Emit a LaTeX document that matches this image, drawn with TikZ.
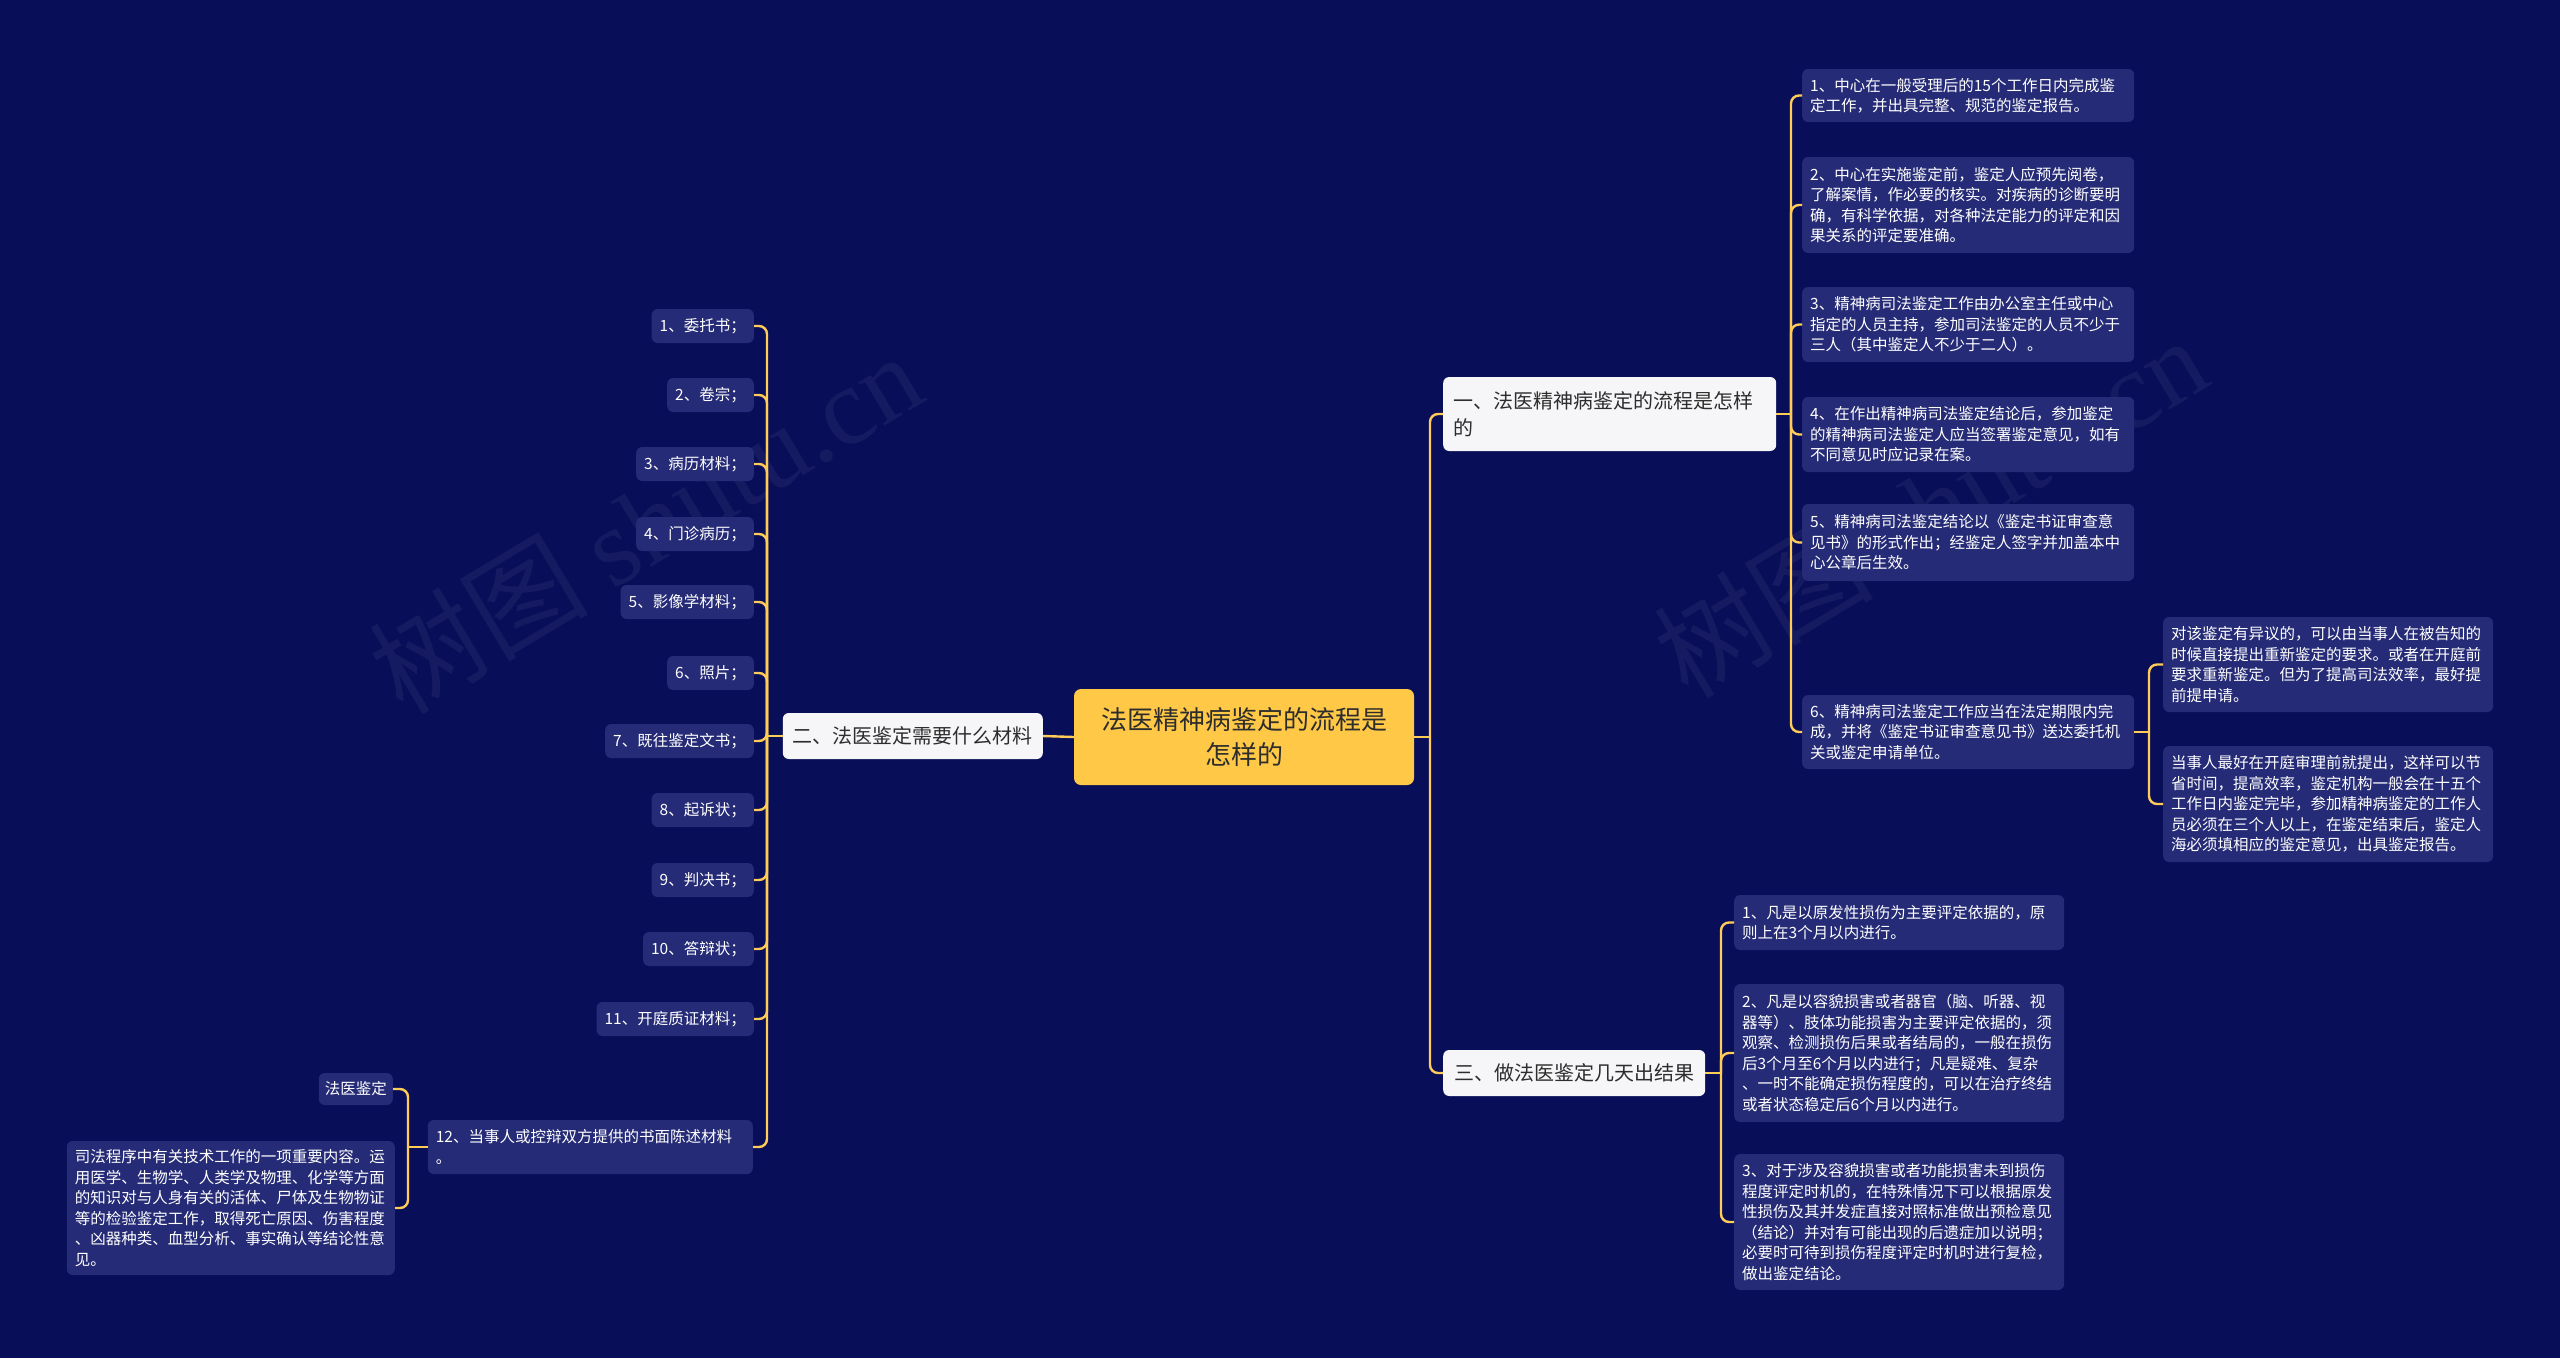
\documentclass[tikz,border=0pt]{standalone}
\usepackage{fontspec}
\newfontfamily\cjk{Noto Sans CJK SC}
\newfontfamily\wmserif{Liberation Serif}
\definecolor{bgcol}{RGB}{9,14,89}
\definecolor{leaffill}{RGB}{37,43,118}
\definecolor{linecol}{RGB}{255,204,88}
\definecolor{centerfill}{RGB}{255,200,70}
\definecolor{branchfill}{RGB}{246,246,248}
\definecolor{darktext}{RGB}{45,45,45}
\begin{document}
\begin{tikzpicture}[x=1pt,y=-1pt,
  conn/.style={draw=linecol, line width=2.4pt, rounded corners=8pt},
  leaf/.style={fill=leaffill, text=white, rounded corners=6pt,
    font=\cjk\fontsize{15.5pt}{20.5pt}\selectfont, align=left,
    inner xsep=8pt, inner ysep=0pt, minimum height=34pt},
  leafbox/.style 2 args={leaf, text width=#1, minimum height=#2},
  branch/.style={fill=branchfill, text=darktext, rounded corners=6pt,
    font=\cjk\fontsize{20pt}{27pt}\selectfont, align=left,
    inner xsep=10pt, inner ysep=0pt},
  centerbox/.style={fill=centerfill, text=darktext, rounded corners=7pt,
    font=\cjk\fontsize{26pt}{35pt}\selectfont, align=center,
    minimum width=340pt, minimum height=96pt},
  wm/.style={text=white, opacity=0.05, rotate=31,
    font=\fontsize{110pt}{120pt}\selectfont}
]
\fill[bgcol] (0,0) rectangle (2560,1358);
\useasboundingbox (0,0) rectangle (2560,1358);

% watermarks
\node[wm] (wm1) at (645,522) {\cjk 树图 \wmserif shutu.cn};
\node[wm] (wm2) at (1930,506) {\cjk 树图 \wmserif shutu.cn};

% center
\node[centerbox] (c) at (1244,737) {法医精神病鉴定的流程是\\怎样的};

% main branches
\node[branch, anchor=west, text width=313pt, minimum height=74pt] (b1) at (1443,414)
  {一、法医精神病鉴定的流程是怎样\\的};
\node[branch, anchor=west, minimum width=262pt, minimum height=46pt] (b3) at (1443,1073)
  {三、做法医鉴定几天出结果};
\node[branch, anchor=east, minimum width=259pt, minimum height=46pt] (b2) at (1043,736)
  {二、法医鉴定需要什么材料};

% branch 1 leaves
\node[leafbox={316pt}{53pt}, anchor=west] (l1) at (1802,95.5)
  {1、中心在一般受理后的15个工作日内完成鉴\\定工作，并出具完整、规范的鉴定报告。};
\node[leafbox={316pt}{96pt}, anchor=west] (l2) at (1802,205)
  {2、中心在实施鉴定前，鉴定人应预先阅卷，\\了解案情，作必要的核实。对疾病的诊断要明\\确，有科学依据，对各种法定能力的评定和因\\果关系的评定要准确。};
\node[leafbox={316pt}{75pt}, anchor=west] (l3) at (1802,324.5)
  {3、精神病司法鉴定工作由办公室主任或中心\\指定的人员主持，参加司法鉴定的人员不少于\\三人（其中鉴定人不少于二人）。};
\node[leafbox={316pt}{75pt}, anchor=west] (l4) at (1802,434.5)
  {4、在作出精神病司法鉴定结论后，参加鉴定\\的精神病司法鉴定人应当签署鉴定意见，如有\\不同意见时应记录在案。};
\node[leafbox={316pt}{77pt}, anchor=west] (l5) at (1802,542.5)
  {5、精神病司法鉴定结论以《鉴定书证审查意\\见书》的形式作出；经鉴定人签字并加盖本中\\心公章后生效。};
\node[leafbox={316pt}{74pt}, anchor=west] (l6) at (1802,732)
  {6、精神病司法鉴定工作应当在法定期限内完\\成，并将《鉴定书证审查意见书》送达委托机\\关或鉴定申请单位。};

% leaf 6 children
\node[leafbox={314pt}{95pt}, anchor=west] (l6a) at (2163,664.5)
  {对该鉴定有异议的，可以由当事人在被告知的\\时候直接提出重新鉴定的要求。或者在开庭前\\要求重新鉴定。但为了提高司法效率，最好提\\前提申请。};
\node[leafbox={314pt}{116pt}, anchor=west] (l6b) at (2163,804)
  {当事人最好在开庭审理前就提出，这样可以节\\省时间，提高效率，鉴定机构一般会在十五个\\工作日内鉴定完毕，参加精神病鉴定的工作人\\员必须在三个人以上，在鉴定结束后，鉴定人\\海必须填相应的鉴定意见，出具鉴定报告。};

% branch 3 leaves
\node[leafbox={314pt}{55pt}, anchor=west] (m1) at (1734,922.5)
  {1、凡是以原发性损伤为主要评定依据的，原\\则上在3个月以内进行。};
\node[leafbox={314pt}{138pt}, anchor=west] (m2) at (1734,1053)
  {2、凡是以容貌损害或者器官（脑、听器、视\\器等）、肢体功能损害为主要评定依据的，须\\观察、检测损伤后果或者结局的，一般在损伤\\后3个月至6个月以内进行；凡是疑难、复杂\\、一时不能确定损伤程度的，可以在治疗终结\\或者状态稳定后6个月以内进行。};
\node[leafbox={314pt}{136pt}, anchor=west] (m3) at (1734,1222)
  {3、对于涉及容貌损害或者功能损害未到损伤\\程度评定时机的，在特殊情况下可以根据原发\\性损伤及其并发症直接对照标准做出预检意见\\（结论）并对有可能出现的后遗症加以说明；\\必要时可待到损伤程度评定时机时进行复检，\\做出鉴定结论。};

% branch 2 leaves
\node[leaf, anchor=east] (k1) at (754,326) {1、委托书；};
\node[leaf, anchor=east] (k2) at (754,395) {2、卷宗；};
\node[leaf, anchor=east] (k3) at (754,464) {3、病历材料；};
\node[leaf, anchor=east] (k4) at (754,534) {4、门诊病历；};
\node[leaf, anchor=east] (k5) at (754,602) {5、影像学材料；};
\node[leaf, anchor=east] (k6) at (754,673) {6、照片；};
\node[leaf, anchor=east] (k7) at (754,741) {7、既往鉴定文书；};
\node[leaf, anchor=east] (k8) at (754,810) {8、起诉状；};
\node[leaf, anchor=east] (k9) at (754,880) {9、判决书；};
\node[leaf, anchor=east] (k10) at (754,949) {10、答辩状；};
\node[leaf, anchor=east] (k11) at (754,1019) {11、开庭质证材料；};
\node[leafbox={309pt}{54pt}, anchor=east] (k12) at (753,1147)
  {12、当事人或控辩双方提供的书面陈述材料\\。};

% leaf 12 children
\node[leaf, anchor=east, inner xsep=6pt, minimum height=32pt] (k12a) at (393,1089) {法医鉴定};
\node[leafbox={312pt}{134pt}, anchor=east] (k12b) at (395,1208)
  {司法程序中有关技术工作的一项重要内容。运\\用医学、生物学、人类学及物理、化学等方面\\的知识对与人身有关的活体、尸体及生物物证\\等的检验鉴定工作，取得死亡原因、伤害程度\\、凶器种类、血型分析、事实确认等结论性意\\见。};

% connectors: center
\coordinate (tc) at (1430,737);
\draw[conn] (c.east) -- (tc);
\draw[conn] (tc) |- (b1.west);
\draw[conn] (tc) |- (b3.west);
\draw[conn] (c.west) -- (b2.east);

% branch 1
\coordinate (t1) at (1791,414);
\draw[conn] (b1.east) -- (t1);
\foreach \n in {l1,l2,l3,l4,l5,l6} \draw[conn] (t1) |- (\n.west);

% leaf 6
\coordinate (t6) at (2149,732);
\draw[conn] (l6.east) -- (t6);
\foreach \n in {l6a,l6b} \draw[conn] (t6) |- (\n.west);

% branch 3
\coordinate (t3) at (1721,1073);
\draw[conn] (b3.east) -- (t3);
\foreach \n in {m1,m2,m3} \draw[conn] (t3) |- (\n.west);

% branch 2
\coordinate (t2) at (767,736);
\draw[conn] (b2.west) -- (t2);
\foreach \n in {k1,k2,k3,k4,k5,k6,k7,k8,k9,k10,k11,k12} \draw[conn] (t2) |- (\n.east);

% leaf 12
\coordinate (t12) at (408,1147);
\draw[conn] (k12.west) -- (t12);
\foreach \n in {k12a,k12b} \draw[conn] (t12) |- (\n.east);
\end{tikzpicture}
\end{document}
